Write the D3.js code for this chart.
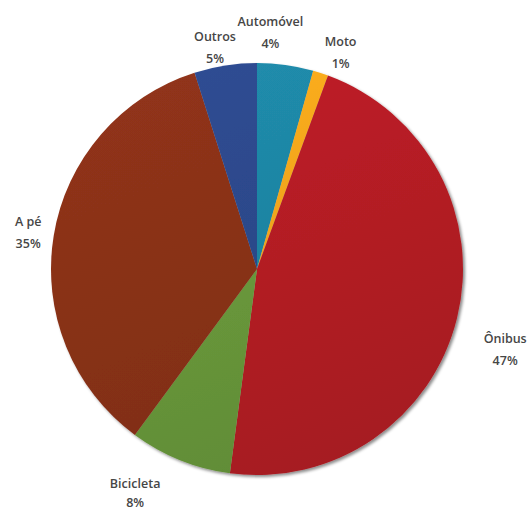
<!DOCTYPE html>
<html>
<head>
<meta charset="utf-8">
<script src="https://cdn.jsdelivr.net/npm/d3@7"></script>
<style>
  body { margin: 0; background: #fff; }
  text { font-family: "Open Sans", "Liberation Sans", sans-serif; }
</style>
</head>
<body>
<div id="chart"></div>
<script>
// modal split, share of trips (%)
const categories = ["Automóvel", "Moto", "Ônibus", "Bicicleta", "A pé", "Outros"];
const values = [4.4, 1.2, 46.5, 8.0, 35.0, 4.9];
const pctLabels = ["4%", "1%", "47%", "8%", "35%", "5%"];
const colors = ["#1f87a6", "#f4a81d", "#b81d25", "#6b9b3c", "#8b3219", "#2d4a8d"];

const W = 527, H = 513;
const cx = 257, cy = 269, radius = 206;
const labelR = 235;

// small hand nudges so labels sit where excel put them
const nudge = {
  "Automóvel": [-19, -5],
  "Moto": [11, 5],
  "Ônibus": [20, 23],
  "Bicicleta": [-34, 6],
  "A pé": [3, 0],
  "Outros": [-6, 9]
};

const svg = d3.select("#chart").append("svg")
  .attr("width", W)
  .attr("height", H);

const defs = svg.append("defs");

const shadow = defs.append("filter")
  .attr("id", "shadow")
  .attr("x", "-10%").attr("y", "-10%")
  .attr("width", "120%").attr("height", "120%");
shadow.append("feDropShadow")
  .attr("dx", 2).attr("dy", 2)
  .attr("stdDeviation", 1.5)
  .attr("flood-color", "#000")
  .attr("flood-opacity", 0.45);

colors.forEach((c, i) => {
  const g = defs.append("linearGradient")
    .attr("id", "grad" + i)
    .attr("gradientUnits", "userSpaceOnUse")
    .attr("x1", -radius * 0.4).attr("y1", -radius)
    .attr("x2", radius * 0.4).attr("y2", radius);
  g.append("stop").attr("offset", "0%").attr("stop-color", d3.color(c).brighter(0.12));
  g.append("stop").attr("offset", "100%").attr("stop-color", d3.color(c).darker(0.3));
});

const data = categories.map((name, i) => ({ name, value: values[i], label: pctLabels[i], i }));

const pie = d3.pie()
  .sort(null)
  .value(d => d.value);

const arc = d3.arc()
  .innerRadius(0)
  .outerRadius(radius);

const labelArc = d3.arc()
  .innerRadius(labelR)
  .outerRadius(labelR);

const arcs = pie(data);

const g = svg.append("g")
  .attr("transform", `translate(${cx},${cy})`);

g.append("g")
  .attr("filter", "url(#shadow)")
  .selectAll("path")
  .data(arcs)
  .join("path")
  .attr("d", arc)
  .attr("fill", d => `url(#grad${d.data.i})`);

const labels = g.selectAll(".label")
  .data(arcs)
  .join("text")
  .attr("class", "label")
  .attr("text-anchor", "middle")
  .attr("font-size", 12.5)
  .attr("font-weight", 600)
  .attr("fill", "#464646")
  .attr("transform", d => {
    const [x, y] = labelArc.centroid(d);
    const n = nudge[d.data.name] || [0, 0];
    return `translate(${x + n[0]},${y + n[1]})`;
  });

labels.append("tspan")
  .attr("x", 0)
  .attr("y", -5)
  .text(d => d.data.name);

labels.append("tspan")
  .attr("x", 0)
  .attr("y", d => d.data.name === "Bicicleta" ? 14 : 17)
  .text(d => d.data.label);
</script>
</body>
</html>
